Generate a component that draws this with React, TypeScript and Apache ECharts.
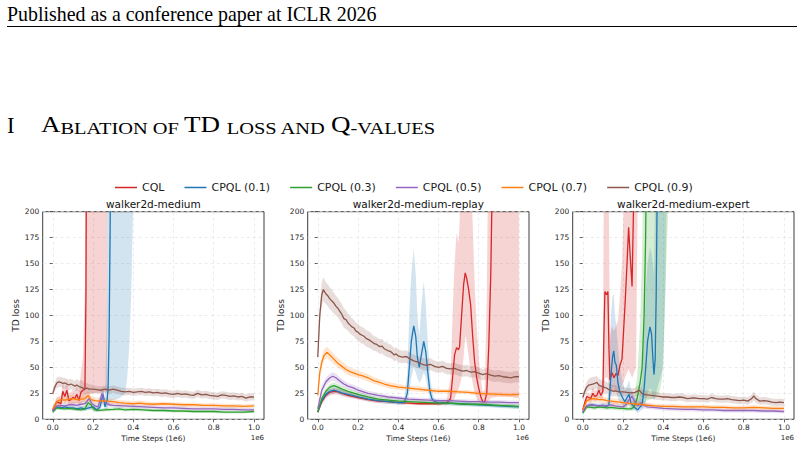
import React, { useEffect, useRef } from "react";
import * as echarts from "echarts";

// [step (1e6), mean TD loss, lower band, upper band]
type Pt = [number, number, number, number];

const methodNames = ["CQL", "CPQL (0.1)", "CPQL (0.3)", "CPQL (0.5)", "CPQL (0.7)", "CPQL (0.9)"];
const methodColors = ["#d62728", "#1f77b4", "#2ca02c", "#9467bd", "#ff7f0e", "#8c564b"];
const panelTitles = ["walker2d-medium", "walker2d-medium-replay", "walker2d-medium-expert"];
const xTickValues = [0, 0.2, 0.4, 0.6, 0.8, 1.0];
const yMax = 200;
const yStep = 25;

// ---------- walker2d-medium ----------
const medCQL: Pt[] = [
  [0, 9, 7, 11], [0.01, 13, 10, 16], [0.02, 17, 13, 21], [0.03, 16, 12, 22], [0.04, 15, 11, 20],
  [0.05, 27, 18, 36], [0.06, 22, 15, 30], [0.07, 28, 18, 38], [0.08, 18, 13, 25], [0.09, 19, 14, 26],
  [0.1, 21, 15, 28], [0.11, 20, 15, 27], [0.12, 24, 16, 32], [0.13, 18, 13, 26], [0.14, 26, 16, 45],
  [0.15, 28, 17, 60], [0.16, 29, 18, 130], [0.165, 120, 22, 600], [0.17, 400, 24, 1500],
  [0.2, 900, 25, 3000], [0.25, 1500, 26, 4000], [0.27, 2000, 27, 5000], [0.275, 2500, 500, 6000],
  [0.5, 3500, 1000, 8000], [1.0, 4500, 1500, 9000],
];
const medQ01: Pt[] = [
  [0, 8, 6, 10], [0.02, 12, 10, 14], [0.04, 11, 9, 13], [0.06, 12, 10, 14], [0.08, 11, 9, 13],
  [0.1, 11, 9, 13], [0.12, 10, 8, 12], [0.14, 11, 9, 13], [0.16, 10, 8, 12], [0.18, 11, 9, 14],
  [0.2, 12, 9, 15], [0.22, 9, 7, 12], [0.235, 12, 9, 16], [0.25, 24, 14, 32], [0.26, 12, 9, 18],
  [0.27, 18, 10, 120], [0.275, 30, 12, 400], [0.28, 80, 14, 900], [0.285, 180, 16, 1500],
  [0.29, 300, 18, 2000], [0.33, 800, 20, 3000], [0.36, 1200, 25, 4000], [0.37, 1300, 40, 4000],
  [0.38, 1400, 70, 4000], [0.39, 1500, 120, 4000], [0.4, 1600, 210, 4000], [0.41, 1700, 600, 5000],
  [1.0, 4000, 1500, 9000],
];
const medQ03: Pt[] = [
  [0, 7, 5, 9], [0.02, 11, 9, 13], [0.04, 10.5, 9, 12.5], [0.06, 10, 8.5, 12], [0.08, 10.5, 9, 12.5],
  [0.1, 10, 8.5, 12], [0.12, 9.5, 8, 11.5], [0.14, 9, 7.5, 11], [0.16, 10, 8, 13], [0.175, 16, 11, 20],
  [0.19, 14, 10, 18], [0.2, 11, 8, 14], [0.21, 9, 7, 11], [0.23, 8.5, 7, 10.5], [0.26, 9, 7.5, 11],
  [0.3, 9.5, 8, 11.5], [0.33, 10, 8, 12], [0.36, 9, 7.5, 11], [0.4, 9.5, 8, 11.5], [0.45, 9, 7.5, 10.5],
  [0.5, 8.5, 7, 10], [0.55, 8.5, 7, 10], [0.6, 8, 6.5, 9.5], [0.65, 8, 6.5, 9.5], [0.7, 7.5, 6, 9],
  [0.75, 7.5, 6, 9], [0.8, 7.5, 6, 9], [0.85, 7, 5.5, 8.5], [0.9, 7, 5.5, 8.5], [0.95, 7, 5.5, 8.5],
  [1.0, 7.5, 6, 9],
];
const medQ05: Pt[] = [
  [0, 8, 6, 10], [0.02, 13, 11, 15], [0.04, 13.5, 11.5, 16], [0.06, 13, 11, 15.5], [0.08, 14, 12, 16.5],
  [0.1, 14, 12, 16.5], [0.12, 13.5, 11.5, 16], [0.14, 14.5, 12, 17], [0.16, 15, 12, 18], [0.18, 20, 15, 25],
  [0.195, 15, 12, 19], [0.21, 13, 10, 16], [0.225, 12, 10, 15], [0.245, 25, 17, 32], [0.26, 16, 12, 20],
  [0.28, 14, 12, 17], [0.3, 13.5, 11.5, 16], [0.35, 13, 11, 15], [0.4, 12.5, 10.5, 14.5], [0.45, 12, 10, 14],
  [0.5, 11.5, 10, 13.5], [0.55, 11, 9.5, 13], [0.6, 11, 9.5, 13], [0.65, 10.5, 9, 12.5], [0.7, 10, 8.5, 12],
  [0.75, 10, 8.5, 12], [0.8, 10, 8.5, 12], [0.85, 9.5, 8, 11.5], [0.9, 9.5, 8, 11.5], [0.95, 9, 7.5, 11],
  [1.0, 9, 7.5, 11],
];
const medQ07: Pt[] = [
  [0, 10, 8, 12], [0.02, 17, 14, 21], [0.04, 19, 15, 23], [0.06, 18.5, 15, 22], [0.08, 19.5, 16, 23],
  [0.1, 20, 16, 24], [0.12, 19, 15.5, 23], [0.14, 19.5, 16, 23], [0.16, 20, 16, 24], [0.175, 23, 18, 27],
  [0.19, 19, 15.5, 23], [0.21, 18, 15, 21], [0.23, 17.5, 14.5, 21], [0.25, 18, 15, 21], [0.27, 17.5, 14.5, 20.5],
  [0.3, 17, 14.5, 19.5], [0.33, 16, 13.5, 18.5], [0.36, 15.5, 13, 18], [0.4, 15, 13, 17.5], [0.43, 15.5, 13, 18],
  [0.46, 15, 12.5, 17.5], [0.5, 14.5, 12.5, 16.5], [0.55, 15, 13, 17], [0.6, 14.5, 12.5, 16.5], [0.65, 14, 12, 16],
  [0.7, 14, 12, 16], [0.75, 13.5, 11.5, 15.5], [0.8, 13.5, 11.5, 15.5], [0.85, 13, 11, 15], [0.9, 13, 11, 15],
  [0.95, 12.5, 10.5, 14.5], [1.0, 13, 11, 15],
];
const medQ09: Pt[] = [
  [0, 25, 22, 28], [0.01, 31, 27, 35], [0.02, 35, 30, 40], [0.03, 36, 31, 41], [0.04, 35.5, 31, 41],
  [0.05, 34.5, 30, 40], [0.06, 35, 30, 40], [0.07, 34, 29, 39], [0.08, 33, 28, 38], [0.09, 34, 29, 39],
  [0.1, 33, 28, 38], [0.11, 32, 27, 37], [0.12, 33, 28, 39], [0.13, 31.5, 26, 37], [0.14, 31, 25, 38],
  [0.15, 30, 24, 37], [0.16, 29.5, 24, 35], [0.17, 30, 25, 35], [0.18, 29, 24.5, 34], [0.2, 29, 25, 33],
  [0.22, 28.5, 25, 32], [0.24, 28, 24.5, 31.5], [0.26, 29, 25.5, 32.5], [0.28, 28, 24.5, 31.5], [0.3, 29, 25.5, 32.5],
  [0.32, 28, 24.5, 31.5], [0.34, 27, 23.5, 30.5], [0.36, 26.5, 23, 30], [0.38, 27, 23.5, 30.5], [0.4, 26, 22.5, 29.5],
  [0.42, 26.5, 23, 30], [0.44, 27, 23.5, 30.5], [0.46, 26, 22.5, 29.5], [0.48, 26.5, 23, 30], [0.5, 25.5, 22, 29],
  [0.52, 26, 22.5, 29.5], [0.54, 25, 21.5, 28.5], [0.56, 25.5, 22, 29], [0.58, 24.5, 21, 28], [0.6, 24, 20.5, 27.5],
  [0.62, 25, 21.5, 28.5], [0.64, 24, 20.5, 27.5], [0.66, 24.5, 21, 28], [0.68, 23.5, 20, 27], [0.7, 23, 19.5, 26.5],
  [0.72, 25, 21.5, 28.5], [0.74, 23.5, 20, 27], [0.76, 24, 20.5, 27.5], [0.78, 23, 19.5, 26.5], [0.8, 22.5, 19, 26],
  [0.82, 22, 18.5, 25.5], [0.84, 23.5, 20, 27], [0.86, 23, 19.5, 26.5], [0.88, 22, 18.5, 25.5], [0.9, 22.5, 19, 26],
  [0.92, 21.5, 18, 25], [0.94, 22, 18.5, 25.5], [0.96, 20.5, 17, 24], [0.98, 21.5, 18, 25], [1.0, 21.5, 18, 25],
];

// ---------- walker2d-medium-replay ----------
const repCQL: Pt[] = [
  [0, 7, 5, 9], [0.02, 17, 14, 20], [0.04, 23, 20, 26], [0.06, 26, 23, 29], [0.08, 27, 24, 30],
  [0.1, 26.5, 24, 29.5], [0.12, 25, 22.5, 28], [0.15, 23, 21, 26], [0.2, 21, 19, 23.5], [0.25, 19, 17, 21],
  [0.3, 17.5, 15.5, 19.5], [0.35, 17, 15, 19], [0.4, 16, 14.5, 18], [0.45, 15.5, 14, 17.5], [0.5, 15, 13.5, 17],
  [0.55, 15, 13.5, 17], [0.6, 15, 13.5, 17], [0.64, 15.5, 13.5, 18], [0.66, 20, 15, 40], [0.67, 40, 18, 100],
  [0.68, 62, 20, 150], [0.69, 69, 25, 180], [0.7, 67, 30, 170], [0.705, 70, 32, 190], [0.715, 100, 40, 250],
  [0.725, 130, 60, 300], [0.733, 141, 80, 320], [0.74, 136, 75, 300], [0.75, 125, 60, 260], [0.76, 110, 45, 230],
  [0.77, 80, 35, 190], [0.78, 55, 25, 130], [0.79, 40, 20, 90], [0.8, 30, 17, 60], [0.81, 22, 15, 40],
  [0.82, 17, 14, 25], [0.83, 17, 14, 30], [0.84, 25, 15, 120], [0.85, 70, 18, 300], [0.86, 140, 20, 600],
  [0.87, 260, 21, 1000], [0.9, 600, 22, 2000], [0.95, 1000, 22, 3000], [1.0, 1300, 20, 4000],
];
const repQ01: Pt[] = [
  [0, 7, 5, 9], [0.02, 18, 15, 21], [0.04, 24, 21, 27], [0.06, 27, 24, 30], [0.08, 28, 25, 31],
  [0.1, 27, 24.5, 30], [0.12, 25.5, 23, 28.5], [0.15, 24, 21.5, 26.5], [0.2, 21.5, 19.5, 24], [0.25, 19.5, 17.5, 22],
  [0.3, 18, 16, 20], [0.35, 17, 15, 19], [0.4, 16, 14, 18], [0.43, 16, 14, 19], [0.445, 25, 16, 45],
  [0.455, 50, 25, 100], [0.465, 75, 40, 140], [0.477, 90, 50, 164], [0.487, 80, 45, 140], [0.495, 60, 40, 100],
  [0.505, 50, 35, 80], [0.515, 62, 38, 110], [0.527, 75, 45, 133], [0.537, 65, 40, 110], [0.547, 45, 28, 75],
  [0.557, 28, 20, 45], [0.567, 20, 16, 28], [0.58, 17, 15, 20], [0.6, 16, 14, 18], [0.65, 15.5, 13.5, 17.5],
  [0.7, 15, 13, 17], [0.75, 14.5, 12.5, 16.5], [0.8, 14, 12, 16], [0.85, 13.5, 11.5, 15.5], [0.9, 13, 11, 15],
  [0.95, 12.5, 10.5, 14.5], [1.0, 12, 10, 14],
];
const repQ03: Pt[] = [
  [0, 7, 5, 9], [0.02, 20, 17, 23], [0.04, 27, 24, 30], [0.06, 31, 28, 34], [0.08, 32.5, 29.5, 35.5],
  [0.1, 31, 28, 34], [0.12, 29, 26.5, 32], [0.15, 27, 24.5, 29.5], [0.2, 24, 22, 26.5], [0.25, 21.5, 19.5, 23.5],
  [0.3, 19.5, 17.5, 21.5], [0.35, 18.5, 16.5, 20.5], [0.4, 17.5, 15.5, 19.5], [0.45, 17, 15, 19], [0.5, 16.5, 14.5, 18.5],
  [0.55, 16, 14, 18], [0.6, 15.5, 13.5, 17.5], [0.65, 15.5, 13.5, 17.5], [0.7, 15, 13, 17], [0.75, 14.5, 12.5, 16.5],
  [0.8, 14.5, 12.5, 16.5], [0.85, 14, 12, 16], [0.9, 13.5, 11.5, 15.5], [0.95, 13, 11, 15], [1.0, 12.5, 10.5, 14.5],
];
const repQ05: Pt[] = [
  [0, 10, 8, 12], [0.02, 28, 24, 32], [0.04, 36, 32, 40], [0.06, 40, 36, 44], [0.075, 41.5, 37.5, 45.5],
  [0.09, 40, 36, 44], [0.11, 37, 33.5, 40.5], [0.13, 34, 31, 37.5], [0.15, 32, 29, 35], [0.18, 30, 27, 33],
  [0.2, 28, 25.5, 31], [0.25, 25, 22.5, 27.5], [0.3, 23, 21, 25.5], [0.35, 21.5, 19.5, 23.5], [0.4, 20.5, 18.5, 22.5],
  [0.45, 19.5, 17.5, 21.5], [0.5, 19, 17, 21], [0.55, 18.5, 16.5, 20.5], [0.6, 18, 16, 20], [0.65, 18, 16, 20],
  [0.7, 17.5, 15.5, 19.5], [0.75, 17, 15, 19], [0.8, 17, 15, 19], [0.85, 16.5, 14.5, 18.5], [0.9, 16.5, 14.5, 18.5],
  [0.95, 16, 14, 18], [1.0, 16, 14, 18],
];
const repQ07: Pt[] = [
  [0, 23, 20, 26], [0.01, 45, 40, 50], [0.02, 55, 50, 61], [0.03, 61, 56, 67], [0.045, 64.5, 59, 70],
  [0.06, 62, 57, 67], [0.08, 58, 53, 63], [0.1, 54, 49.5, 59], [0.12, 51, 47, 56], [0.14, 48, 44, 52.5],
  [0.16, 46, 42, 50], [0.18, 44.5, 41, 48.5], [0.2, 43, 39.5, 47], [0.22, 42, 38.5, 45.5], [0.25, 40, 36.5, 43.5],
  [0.28, 37, 34, 40.5], [0.3, 36, 33, 39], [0.33, 34, 31, 37], [0.36, 32.5, 29.5, 35.5], [0.4, 31, 28.5, 34],
  [0.45, 30, 27.5, 32.5], [0.5, 29, 26.5, 31.5], [0.55, 28, 25.5, 30.5], [0.6, 27, 25, 29.5], [0.65, 27, 25, 29],
  [0.7, 26.5, 24.5, 28.5], [0.75, 26, 24, 28], [0.8, 25, 23, 27], [0.85, 24.5, 22.5, 26.5], [0.9, 24, 22, 26],
  [0.95, 23.5, 21.5, 25.5], [1.0, 24, 22, 26],
];
const repQ09: Pt[] = [
  [0, 60, 55, 65], [0.01, 100, 92, 108], [0.02, 120, 110, 132], [0.028, 125, 114, 137], [0.04, 121, 111, 132],
  [0.05, 119, 109, 130], [0.06, 116, 106, 127], [0.07, 114, 104, 125], [0.08, 112, 102, 122], [0.09, 109, 100, 119],
  [0.1, 107, 98, 117], [0.11, 104, 95, 114], [0.12, 101, 92, 111], [0.13, 97, 88, 107], [0.14, 96, 87, 105],
  [0.15, 93, 85, 102], [0.16, 91, 83, 100], [0.17, 89, 81, 97], [0.18, 88, 80, 96], [0.19, 85, 77, 93],
  [0.2, 84, 76, 92], [0.21, 82, 74, 90], [0.22, 81, 73, 89], [0.23, 80, 72, 88], [0.24, 78, 70, 86],
  [0.25, 77, 69.5, 85], [0.26, 76, 68.5, 84], [0.27, 74.5, 67, 82], [0.28, 73, 66, 80], [0.29, 72.5, 65.5, 79.5],
  [0.3, 71, 64, 78], [0.31, 70, 63, 77], [0.32, 70.5, 63.5, 77.5], [0.33, 68, 61.5, 75], [0.34, 67, 60.5, 74],
  [0.35, 66, 59.5, 73], [0.36, 65.5, 59, 72], [0.37, 64, 58, 70.5], [0.38, 62, 56, 68.5], [0.39, 63, 57, 69.5],
  [0.4, 61, 55, 67.5], [0.42, 60, 54, 66], [0.44, 60.5, 54.5, 66.5], [0.46, 58, 52, 64], [0.48, 56, 50.5, 62],
  [0.5, 55, 49.5, 61], [0.52, 53, 47.5, 59], [0.54, 52, 46.5, 58], [0.56, 53, 47.5, 59], [0.58, 51, 45.5, 56.5],
  [0.6, 50, 44.5, 55.5], [0.62, 51, 45.5, 56.5], [0.64, 49, 43.5, 54.5], [0.66, 48.5, 43, 54], [0.68, 49, 43.5, 54.5],
  [0.7, 47.5, 42, 53], [0.72, 46.5, 41, 52], [0.74, 47, 41.5, 52.5], [0.76, 45.5, 40, 51], [0.78, 46, 40.5, 51.5],
  [0.8, 44.5, 39, 50], [0.82, 43, 37.5, 48.5], [0.84, 44, 38.5, 49.5], [0.86, 42.5, 37, 48], [0.88, 41.5, 36, 47],
  [0.9, 42, 36.5, 47.5], [0.92, 41, 35.5, 46.5], [0.94, 40.5, 35, 46], [0.96, 40, 34.5, 45.5], [0.98, 41, 35.5, 46.5],
  [1.0, 41, 35.5, 46.5],
];

// ---------- walker2d-medium-expert ----------
const expCQL: Pt[] = [
  [0, 9, 7, 11], [0.01, 16, 13, 19], [0.02, 22, 18, 26], [0.03, 21, 17, 25], [0.04, 20, 16, 25],
  [0.05, 25, 19, 31], [0.06, 22, 17, 27], [0.07, 23, 18, 29], [0.08, 28, 21, 35], [0.09, 23, 18, 30],
  [0.1, 27, 20, 40], [0.105, 80, 30, 250], [0.11, 123, 40, 300], [0.118, 120, 40, 300], [0.125, 123, 40, 300],
  [0.13, 70, 30, 200], [0.135, 38, 25, 80], [0.145, 45, 28, 90], [0.155, 40, 25, 85], [0.165, 44, 28, 90],
  [0.175, 42, 26, 95], [0.185, 52, 30, 120], [0.195, 58, 32, 150], [0.2, 75, 35, 180], [0.21, 110, 40, 250],
  [0.22, 150, 45, 320], [0.228, 185, 48, 380], [0.235, 160, 45, 360], [0.245, 128, 40, 350], [0.25, 180, 42, 400],
  [0.255, 230, 45, 500], [0.265, 350, 50, 800], [0.275, 500, 250, 1000], [0.5, 3000, 1000, 6000], [1.0, 4000, 1500, 8000],
];
const expQ01: Pt[] = [
  [0, 7, 5, 9], [0.02, 13, 11, 15], [0.04, 14, 12, 16], [0.06, 13.5, 11.5, 15.5], [0.08, 13, 11, 15],
  [0.1, 13.5, 11.5, 15.5], [0.12, 12.5, 10.5, 15], [0.13, 14, 11, 30], [0.14, 42, 20, 100], [0.148, 60, 30, 118],
  [0.154, 66, 32, 121], [0.16, 55, 28, 100], [0.167, 52, 26, 90], [0.175, 35, 20, 70], [0.185, 26, 16, 50],
  [0.2, 20, 13, 35], [0.21, 17, 11, 28], [0.22, 21, 13, 32], [0.23, 24, 14, 38], [0.24, 15, 10, 28],
  [0.25, 13, 9, 24], [0.26, 11, 8, 20], [0.273, 9, 6, 18], [0.285, 12, 8, 25], [0.295, 14, 9, 40],
  [0.305, 30, 12, 90], [0.315, 55, 18, 130], [0.322, 75, 25, 150], [0.334, 89, 30, 165], [0.342, 82, 28, 160],
  [0.348, 60, 22, 150], [0.354, 43, 18, 140], [0.36, 58, 20, 220], [0.365, 120, 25, 400], [0.37, 220, 30, 600],
  [0.4, 600, 50, 1500], [0.41, 700, 120, 1500], [0.42, 800, 250, 2000], [0.6, 2500, 1000, 5000], [1.0, 4000, 1500, 8000],
];
const expQ03: Pt[] = [
  [0, 6, 4, 8], [0.02, 12, 10, 14], [0.04, 11.5, 9.5, 13.5], [0.06, 11, 9, 13], [0.08, 12, 10, 14],
  [0.1, 11.5, 9.5, 13.5], [0.12, 11, 9, 13], [0.14, 11.5, 9.5, 13.5], [0.16, 11, 9, 13], [0.18, 10.5, 8.5, 12.5],
  [0.2, 10.5, 8.5, 12.5], [0.22, 10, 8, 12], [0.24, 10, 8, 12.5], [0.255, 12, 9, 20], [0.27, 20, 12, 40],
  [0.285, 35, 14, 90], [0.295, 50, 15, 160], [0.305, 100, 16, 300], [0.312, 170, 17, 500], [0.318, 260, 18, 800],
  [0.35, 800, 20, 2000], [0.38, 1200, 25, 3000], [0.395, 1500, 40, 3000], [0.405, 1600, 90, 3000], [0.415, 1700, 150, 3000],
  [0.43, 1800, 230, 3000], [0.6, 2500, 1000, 5000], [1.0, 4000, 1500, 8000],
];
const expQ05: Pt[] = [
  [0, 7, 5, 9], [0.02, 13, 11, 15], [0.04, 14, 12, 16], [0.06, 13.5, 11.5, 15.5], [0.08, 13, 11, 15],
  [0.1, 13.5, 11.5, 15.5], [0.12, 13, 11, 15.5], [0.14, 14, 11.5, 17], [0.16, 13, 11, 16], [0.18, 12.5, 10.5, 15],
  [0.2, 12, 10, 14.5], [0.215, 14, 11, 18], [0.23, 19, 14, 25], [0.245, 22, 16, 28], [0.26, 16, 12, 21],
  [0.275, 13, 10, 17], [0.29, 16, 11, 21], [0.3, 14, 10.5, 18], [0.32, 12, 10, 15], [0.35, 11.5, 9.5, 14],
  [0.4, 10.5, 8.5, 13], [0.45, 10, 8, 12], [0.5, 9.5, 7.5, 11.5], [0.55, 9.5, 7.5, 11.5], [0.6, 9, 7, 11],
  [0.65, 9, 7, 11], [0.7, 8.5, 6.5, 10.5], [0.75, 8.5, 6.5, 10.5], [0.8, 8.5, 6.5, 10.5], [0.85, 8.5, 6.5, 10.5],
  [0.9, 8, 6, 10], [0.95, 8, 6, 10], [1.0, 7.5, 5.5, 9.5],
];
const expQ07: Pt[] = [
  [0, 9, 7, 11], [0.02, 18, 15, 21], [0.04, 19.5, 16, 23], [0.06, 20, 16.5, 23.5], [0.08, 19, 16, 22.5],
  [0.1, 19, 16, 22], [0.12, 18, 15, 21], [0.14, 17.5, 14.5, 20.5], [0.16, 17, 14, 20], [0.18, 16.5, 14, 19.5],
  [0.2, 16, 13.5, 19], [0.22, 15.5, 13, 18.5], [0.25, 15, 12.5, 18], [0.28, 14.5, 12, 17], [0.3, 14, 12, 16.5],
  [0.33, 13.5, 11.5, 16], [0.36, 13, 11, 15], [0.4, 12.5, 10.5, 14.5], [0.45, 12.5, 10.5, 14.5], [0.5, 12, 10, 14],
  [0.55, 12, 10, 14], [0.6, 12, 10, 14], [0.65, 11.5, 9.5, 13.5], [0.7, 11.5, 9.5, 13.5], [0.75, 11, 9, 13],
  [0.8, 11, 9, 13], [0.85, 11.5, 9.5, 13.5], [0.9, 11, 9, 13], [0.95, 10.5, 8.5, 12.5], [1.0, 10.5, 8.5, 12.5],
];
const expQ09: Pt[] = [
  [0, 21, 18, 24], [0.01, 27, 23, 31], [0.02, 31, 26, 36], [0.03, 33, 28, 39], [0.04, 33.5, 28, 40],
  [0.05, 34, 28, 41], [0.06, 34.5, 29, 41], [0.07, 35.5, 29.5, 42], [0.08, 33, 27.5, 39], [0.09, 32, 27, 38],
  [0.1, 31.5, 26, 38], [0.11, 30.5, 25, 37], [0.12, 30, 24.5, 36], [0.13, 28.5, 23, 35], [0.14, 28, 22.5, 34],
  [0.15, 27, 22, 33], [0.16, 27.5, 22.5, 33], [0.18, 26.5, 22, 31.5], [0.2, 26.5, 22, 31], [0.22, 26, 22, 30.5],
  [0.24, 25.5, 21.5, 30], [0.26, 26, 22, 30.5], [0.28, 28, 23, 33], [0.3, 24, 20.5, 28], [0.32, 23.5, 20, 27.5],
  [0.34, 23, 19.5, 27], [0.36, 22.5, 19, 26.5], [0.38, 22, 18.5, 25.5], [0.4, 21.5, 18, 25], [0.42, 21.5, 18, 25],
  [0.44, 21, 17.5, 24.5], [0.46, 21, 17.5, 24.5], [0.48, 21.5, 18, 25], [0.5, 21, 17.5, 24.5], [0.52, 20, 16.5, 23.5],
  [0.54, 20.5, 17, 24], [0.56, 20.5, 17, 24], [0.58, 20, 16.5, 23.5], [0.6, 20, 16.5, 23.5], [0.62, 19.5, 16, 23],
  [0.64, 21, 17.5, 24.5], [0.66, 20, 16.5, 23.5], [0.68, 19.5, 16, 23], [0.7, 19.5, 16, 23], [0.72, 20, 16.5, 23.5],
  [0.74, 19, 15.5, 22.5], [0.76, 18.5, 15, 22], [0.78, 18, 14.5, 21.5], [0.8, 18.5, 15, 22], [0.82, 17.5, 14, 21],
  [0.84, 20, 16, 24], [0.85, 22.5, 18, 27], [0.86, 20, 16, 24], [0.88, 17.5, 14, 21], [0.9, 18, 14.5, 21.5],
  [0.92, 17.5, 14, 21], [0.94, 16.5, 13, 20], [0.96, 16, 12.5, 19.5], [0.98, 16.5, 13, 20], [1.0, 16, 12.5, 19.5],
];

const panelData: Pt[][][] = [
  [medCQL, medQ01, medQ03, medQ05, medQ07, medQ09],
  [repCQL, repQ01, repQ03, repQ05, repQ07, repQ09],
  [expCQL, expQ01, expQ03, expQ05, expQ07, expQ09],
];

const SANS = "DejaVu Sans";
const SERIF = "Liberation Serif";
const AXIS_COLOR = "#3d3d3d";
const TEXT_COLOR = "#262626";

// plot frames (pixels)
const frames = [
  { left: 42.7, top: 211.7, width: 221.3, height: 207.6 },
  { left: 307.7, top: 211.7, width: 221.3, height: 207.6 },
  { left: 572.7, top: 211.7, width: 221.3, height: 207.6 },
];

function buildOption(): echarts.EChartsCoreOption {
  const series: any[] = [];
  panelData.forEach((methods, p) => {
    methods.forEach((pts, m) => {
      const color = methodColors[m];
      // mean ± spread band, projected through the panel's axes
      series.push({
        type: "custom",
        name: `${methodNames[m]} band`,
        xAxisIndex: p,
        yAxisIndex: p,
        clip: true,
        silent: true,
        data: [[pts[0][0], pts[0][1]]],
        renderItem: (_params: any, api: any) => {
          const upper = pts.map((d) => api.coord([d[0], d[3]]));
          const lower = pts.map((d) => api.coord([d[0], d[2]])).reverse();
          return {
            type: "polygon",
            shape: { points: upper.concat(lower) },
            style: { fill: echarts.color.modifyAlpha(color, 0.2), stroke: "none" },
          };
        },
      });
      series.push({
        type: "line",
        name: methodNames[m],
        xAxisIndex: p,
        yAxisIndex: p,
        data: pts.map((d) => [d[0], d[1]]),
        symbol: "none",
        showSymbol: false,
        clip: true,
        silent: true,
        lineStyle: { width: 1.3, color },
        itemStyle: { color },
      });
    });
  });

  const splitLine = { show: true, lineStyle: { color: "#e2e2e2", width: 0.7, type: [3, 3] } };

  const xAxis = frames.map((_, i) => ({
    type: "value",
    gridIndex: i,
    min: -0.05,
    max: 1.05,
    name: "Time Steps (1e6)",
    nameLocation: "middle",
    nameGap: 15,
    nameTextStyle: { fontSize: 7.5, color: TEXT_COLOR, fontFamily: SANS },
    axisLine: { show: false },
    axisTick: { show: true, length: 3, lineStyle: { color: AXIS_COLOR, width: 0.8 }, customValues: xTickValues },
    axisLabel: {
      customValues: xTickValues,
      margin: 4.5,
      fontSize: 7.5,
      color: TEXT_COLOR,
      fontFamily: SANS,
      formatter: (v: number) => v.toFixed(1),
    },
    splitLine,
  }));

  const yAxis = frames.map((_, i) => ({
    type: "value",
    gridIndex: i,
    min: 0,
    max: yMax,
    interval: yStep,
    name: "TD loss",
    nameLocation: "middle",
    nameGap: 22,
    nameTextStyle: { fontSize: 9, color: TEXT_COLOR, fontFamily: SANS },
    axisLine: { show: false },
    axisTick: { show: true, length: 3, lineStyle: { color: AXIS_COLOR, width: 0.8 } },
    axisLabel: { margin: 3.5, fontSize: 7.5, color: TEXT_COLOR, fontFamily: SANS },
    splitLine,
  }));

  const grid = frames.map((f) => ({
    ...f,
    show: true,
    borderColor: AXIS_COLOR,
    borderWidth: 1,
    backgroundColor: "transparent",
    containLabel: false,
    outerBoundsMode: "none",
  }));

  const title = panelTitles.map((t, i) => ({
    text: t,
    left: frames[i].left + frames[i].width / 2,
    top: 198.5,
    textAlign: "center",
    padding: 0,
    textStyle: { fontSize: 10.5, fontWeight: "normal", color: "#111", fontFamily: SANS },
  }));

  const graphic: any[] = [
    {
      type: "text",
      x: 7,
      y: 13.5,
      style: {
        text: "Published as a conference paper at ICLR 2026",
        fontFamily: SERIF,
        fontSize: 19.9,
        fill: "#000",
        verticalAlign: "middle",
      },
    },
    {
      type: "line",
      shape: { x1: 7, y1: 26.5, x2: 797, y2: 26.5 },
      style: { stroke: "#000", lineWidth: 1 },
    },
    {
      type: "text",
      x: 7,
      y: 125,
      style: { text: "I", fontFamily: SERIF, fontSize: 22.5, fill: "#000", verticalAlign: "middle" },
    },
    {
      // section heading set in small capitals
      type: "text",
      x: 41,
      y: 125,
      scaleX: 1.2,
      style: {
        text: "{b|A}{s|BLATION OF }{b|TD }{s|LOSS AND }{b|Q}{s|-VALUES}",
        verticalAlign: "middle",
        rich: {
          b: { fontFamily: SERIF, fontSize: 22.5, lineHeight: 22.5, fill: "#000", verticalAlign: "bottom" },
          s: { fontFamily: SERIF, fontSize: 17, lineHeight: 17, fill: "#000", verticalAlign: "bottom" },
        },
      },
    },
    ...frames.map((f) => ({
      type: "text",
      x: f.left + f.width,
      y: 437.5,
      style: {
        text: "1e6",
        fontFamily: SANS,
        fontSize: 7,
        fill: TEXT_COLOR,
        align: "right",
        verticalAlign: "middle",
      },
    })),
  ];

  return {
    animation: false,
    backgroundColor: "#ffffff",
    title,
    legend: {
      data: methodNames,
      left: 115,
      top: 182,
      padding: 0,
      icon: "rect",
      itemWidth: 22,
      itemHeight: 1.5,
      itemGap: 20,
      selectedMode: false,
      textStyle: { fontSize: 11, color: "#222", fontFamily: SANS },
    },
    grid,
    xAxis,
    yAxis,
    series,
    graphic,
  };
}

export default function App() {
  const ref = useRef<HTMLDivElement>(null);
  useEffect(() => {
    if (!ref.current) return;
    const chart = echarts.init(ref.current, undefined, { renderer: "svg" });
    chart.setOption(buildOption());
    return () => chart.dispose();
  }, []);
  return (
    <div
      ref={ref}
      style={{ position: "absolute", left: 0, top: 0, width: 804, height: 450, background: "#fff" }}
    />
  );
}
